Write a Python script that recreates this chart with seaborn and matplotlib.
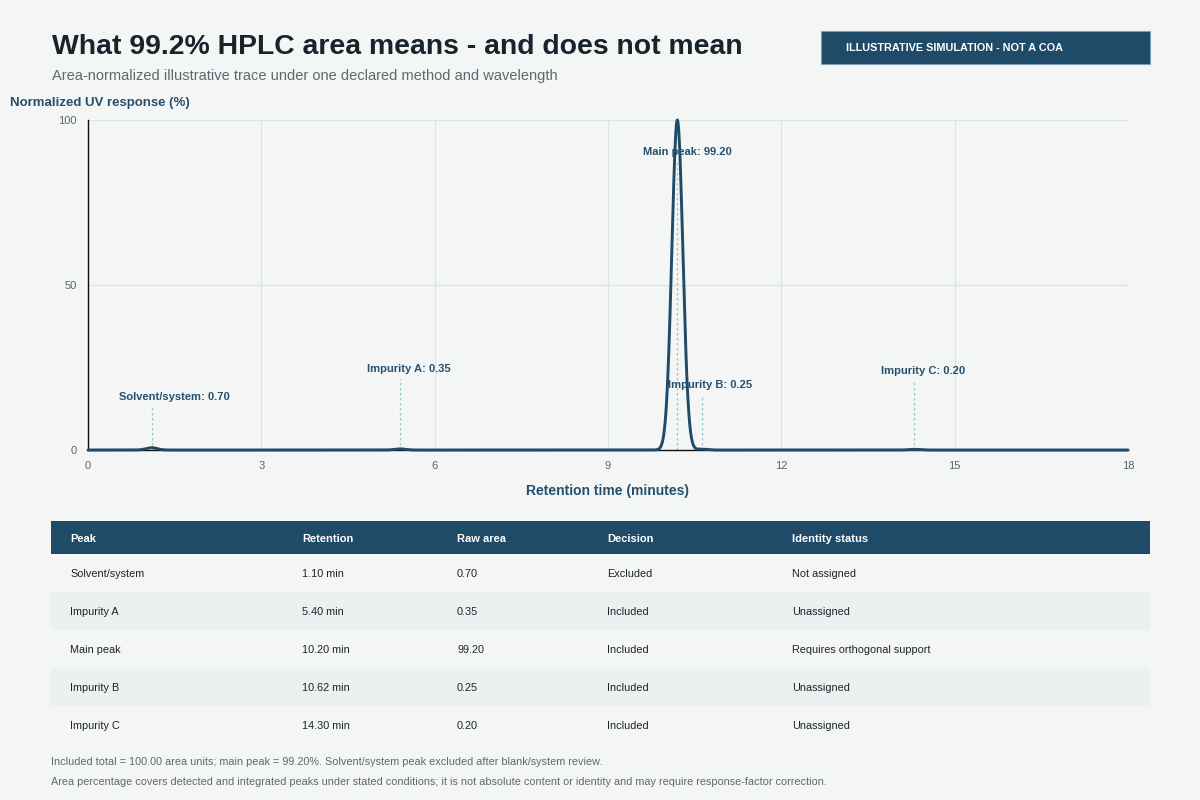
import numpy as np
import pandas as pd
import seaborn as sns
import matplotlib.pyplot as plt
from matplotlib.patches import Rectangle

# peak table
peak_names = ["Solvent/system", "Impurity A", "Main peak", "Impurity B", "Impurity C"]
retention = [1.10, 5.40, 10.20, 10.62, 14.30]
raw_area = [0.70, 0.35, 99.20, 0.25, 0.20]
decision = ["Excluded", "Included", "Included", "Included", "Included"]
identity = ["Not assigned", "Unassigned", "Requires orthogonal support", "Unassigned", "Unassigned"]

# label heights (normalized response units) for annotations
label_y = [16, 24.5, 90.3, 19.7, 24]
label_dx = [0.40, 0.15, 0.18, 0.14, 0.15]

x_ticks = [0, 3, 6, 9, 12, 15, 18]
y_ticks = [0, 50, 100]

BG = "#f4f6f6"
NAVY = "#1f4a68"
LABEL = "#24506e"
DASH = "#9cc8c4"
GRID = "#dbe4e4"
SIGMA = 0.095

sns.set_theme(style="white")
plt.rcParams["font.family"] = ["Liberation Sans", "DejaVu Sans"]

# build the trace from the peak table (gaussian peak shapes)
t = np.linspace(0, 18, 4000)
resp = np.zeros_like(t)
for rt, a in zip(retention, raw_area):
    resp += a * np.exp(-0.5 * ((t - rt) / SIGMA) ** 2)
resp = resp / resp.max() * 100
trace = pd.DataFrame({"time": t, "response": resp})

fig = plt.figure(figsize=(12, 8), dpi=100, facecolor=BG)
ax = fig.add_axes([88 / 1200, 1 - 450 / 800, 1040 / 1200, 330 / 800])
ax.set_facecolor(BG)

ax.set_xlim(0, 18)
ax.set_ylim(0, 100)
ax.set_xticks(x_ticks)
ax.set_yticks(y_ticks)
ax.grid(True, color=GRID, linewidth=0.9)
ax.set_axisbelow(True)
for s in ["top", "right"]:
    ax.spines[s].set_visible(False)
for s in ["left", "bottom"]:
    ax.spines[s].set_color("#111111")
    ax.spines[s].set_linewidth(1.0)
ax.tick_params(axis="both", length=0, labelsize=8, labelcolor="#5a646b", pad=8)

# annotation guides
for name, rt, a, ly, dx in zip(peak_names, retention, raw_area, label_y, label_dx):
    ax.plot([rt, rt], [0, ly - 3], color=DASH, linestyle=(0, (2, 2)), linewidth=0.9, zorder=2)
    ax.text(rt + dx, ly, f"{name}: {a:.2f}", ha="center", va="center", fontsize=8,
            fontweight="bold", color=LABEL, zorder=4)

sns.lineplot(data=trace, x="time", y="response", ax=ax, color=NAVY, linewidth=2.1,
             zorder=3, clip_on=False)

ax.set_xlabel("Retention time (minutes)", fontsize=10, fontweight="bold", color=LABEL, labelpad=9)
ax.set_ylabel("")
fig.text(10 / 1200, 1 - 103 / 800, "Normalized UV response (%)", fontsize=9.5, fontweight="bold",
         color=LABEL, va="center", ha="left")

# title block
fig.text(52 / 1200, 1 - 47 / 800, "What 99.2% HPLC area means - and does not mean", fontsize=20.4,
         fontweight="bold", color="#18232c", va="center", ha="left")
fig.text(52 / 1200, 1 - 76 / 800, "Area-normalized illustrative trace under one declared method and wavelength",
         fontsize=10.5, color="#5d6870", va="center", ha="left")

fig.patches.append(Rectangle((821 / 1200, 1 - 64 / 800), 329 / 1200, 33 / 800, transform=fig.transFigure,
                             facecolor=NAVY, edgecolor="#7f9bb0", linewidth=0.8))
fig.text(846 / 1200, 1 - 48 / 800, "ILLUSTRATIVE SIMULATION - NOT A COA", fontsize=7.8,
         fontweight="bold", color="white", va="center", ha="left")

# peak table
col_x = [70, 302, 457, 607, 792]
headers = ["Peak", "Retention", "Raw area", "Decision", "Identity status"]
tbl_left, tbl_w = 51, 1099
head_top, head_h, row_h = 521, 33, 38

fig.patches.append(Rectangle((tbl_left / 1200, 1 - (head_top + head_h) / 800), tbl_w / 1200, head_h / 800,
                             transform=fig.transFigure, facecolor=NAVY, edgecolor="none"))
for cx, h in zip(col_x, headers):
    fig.text(cx / 1200, 1 - (head_top + head_h / 2 + 1) / 800, h, fontsize=8, fontweight="bold",
             color="white", va="center", ha="left")

rows = list(zip(peak_names, [f"{r:.2f} min" for r in retention], [f"{a:.2f}" for a in raw_area],
                decision, identity))
for i, row in enumerate(rows):
    top = head_top + head_h + i * row_h
    if i % 2 == 1:
        fig.patches.append(Rectangle((tbl_left / 1200, 1 - (top + row_h) / 800), tbl_w / 1200, row_h / 800,
                                     transform=fig.transFigure, facecolor="#ebf1f0", edgecolor="none"))
    for cx, val in zip(col_x, row):
        fig.text(cx / 1200, 1 - (top + row_h / 2 + 1) / 800, val, fontsize=7.8, color="#1d2328",
                 va="center", ha="left")

fig.text(51 / 1200, 1 - 762 / 800,
         "Included total = 100.00 area units; main peak = 99.20%. Solvent/system peak excluded after blank/system review.",
         fontsize=7.8, color="#5d6870", va="center", ha="left")
fig.text(51 / 1200, 1 - 782 / 800,
         "Area percentage covers detected and integrated peaks under stated conditions; it is not absolute content "
         "or identity and may require response-factor correction.",
         fontsize=7.8, color="#5d6870", va="center", ha="left")

fig.savefig("out.png", dpi=100, facecolor=BG)
